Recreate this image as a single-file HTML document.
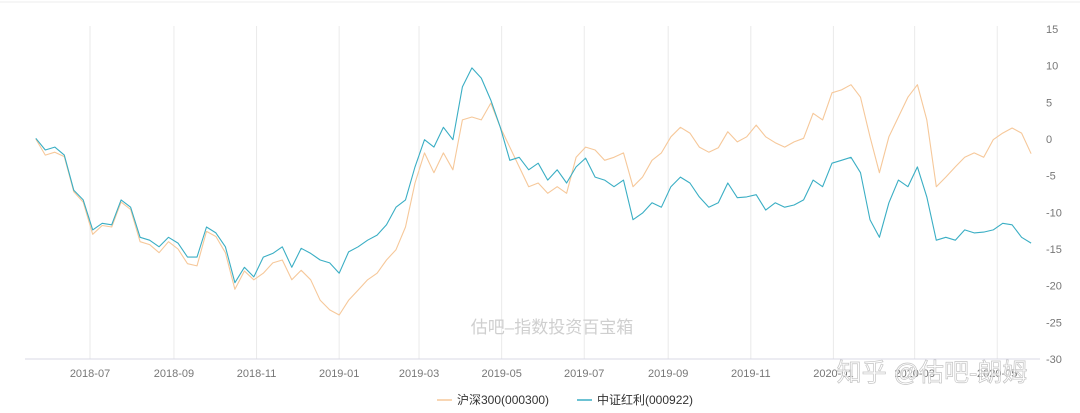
<!DOCTYPE html>
<html><head><meta charset="utf-8"><style>
body{margin:0;background:#fff;width:1080px;height:413px;overflow:hidden;font-family:"Liberation Sans","Noto Sans CJK SC",sans-serif}
svg{display:block}
</style></head><body>
<svg id="chart" width="1080" height="413" xmlns="http://www.w3.org/2000/svg">
<line x1="0" y1="2" x2="1080" y2="2" stroke="#eee"/>
<g id="grid"></g>
<text x="552" y="333" font-size="17" fill="#cfcfcf" text-anchor="middle" font-family="Liberation Sans,Noto Sans CJK SC,sans-serif">估吧–指数投资百宝箱</text>
<g id="series"></g>
<g id="axes"></g>
<text x="932" y="381" font-size="25" fill="#fff" fill-opacity="0.7" stroke="#c4c4c4" stroke-width="0.7" text-anchor="middle" font-family="Liberation Sans,Noto Sans CJK SC,sans-serif">知乎 @估吧-朗姆</text>
<g>
<g>
<line x1="437" y1="400" x2="452" y2="400" stroke="#f6c89a" stroke-width="1.5"/>
<text x="457" y="404" font-size="12" fill="#333">沪深300(000300)</text></g>
<g>
<line x1="577" y1="400" x2="592" y2="400" stroke="#3aaec4" stroke-width="1.5"/>
<text x="597" y="404" font-size="12" fill="#333">中证红利(000922)</text></g>
</g>
</svg>
<script>
const startDate = "2018-05-22";
const stepDays = 7;
const hs300 = [0,-2.2,-1.8,-2.4,-7.2,-8.6,-13,-11.8,-12,-8.6,-9.6,-14,-14.4,-15.5,-14,-15,-17,-17.3,-12.6,-13.3,-15.5,-20.5,-18,-19.2,-18.3,-16.9,-16.5,-19.2,-17.9,-19.2,-22,-23.3,-24,-22,-20.6,-19.2,-18.3,-16.5,-15.1,-12,-6,-1.9,-4.6,-1.9,-4.2,2.6,3,2.6,4.9,1.6,-1.1,-3.8,-6.5,-6,-7.4,-6.5,-7.4,-2.5,-1.1,-1.5,-2.9,-2.5,-1.9,-6.5,-5.2,-2.9,-1.9,0.3,1.6,0.8,-1.1,-1.8,-1.2,1,-0.4,0.3,1.9,0.3,-0.5,-1.1,-0.4,0.1,3.5,2.6,6.3,6.7,7.4,5.7,0.3,-4.6,0.3,3,5.7,7.4,2.6,-6.5,-5.2,-3.8,-2.5,-1.9,-2.5,-0.1,0.8,1.5,0.8,-2];
const dividend = [0.1,-1.5,-1.1,-2.2,-7,-8.3,-12.4,-11.5,-11.7,-8.3,-9.3,-13.4,-13.8,-14.7,-13.4,-14.2,-16.1,-16.1,-12,-12.8,-14.7,-19.6,-17.5,-18.8,-16.1,-15.6,-14.7,-17.5,-14.9,-15.6,-16.5,-16.9,-18.3,-15.4,-14.7,-13.8,-13.1,-11.7,-9.3,-8.3,-3.8,-0.1,-1.1,1.6,-0.1,7.1,9.7,8.3,5.3,1.6,-2.9,-2.5,-4.2,-3.3,-5.6,-4.2,-6,-3.8,-2.6,-5.2,-5.6,-6.5,-5.6,-11,-10.1,-8.7,-9.3,-6.5,-5.2,-6,-7.9,-9.3,-8.7,-6,-8,-7.9,-7.6,-9.7,-8.7,-9.3,-9,-8.3,-5.6,-6.5,-3.3,-2.9,-2.5,-4.6,-11,-13.4,-8.7,-5.6,-6.5,-3.8,-7.9,-13.8,-13.4,-13.8,-12.4,-12.8,-12.7,-12.4,-11.5,-11.7,-13.4,-14.2];
const xTicks = ["2018-07","2018-09","2018-11","2019-01","2019-03","2019-05","2019-07","2019-09","2019-11","2020-01","2020-03","2020-05"];
const yTicks = [15,10,5,0,-5,-10,-15,-20,-25,-30];

const NS="http://www.w3.org/2000/svg";
const DAY=86400000;
const ref=Date.UTC(2018,6,1);
function x(date){return 90+(date-ref)/DAY*(82.6/61);}
function y(v){return 139-v*(330/45);}
function dateOf(i){const p=startDate.split("-");return Date.UTC(+p[0],+p[1]-1,+p[2])+i*stepDays*DAY;}
function mk(tag,attrs,parent){const e=document.createElementNS(NS,tag);for(const k in attrs)e.setAttribute(k,attrs[k]);parent.appendChild(e);return e;}
const grid=document.getElementById("grid"),axes=document.getElementById("axes"),series=document.getElementById("series");
xTicks.forEach(t=>{
  const p=t.split("-");const xx=x(Date.UTC(+p[0],+p[1]-1,1));
  const g=mk("line",{x1:xx,x2:xx,y1:y(15)-3,y2:y(-30),stroke:"#eaeaea","stroke-width":1},grid);
  
  
  const tx=mk("text",{x:xx,y:377,"font-size":11,fill:"#777","text-anchor":"middle"},axes);
  tx.textContent=t;
  
  
});
const base=mk("line",{x1:25,x2:1040,y1:y(-30),y2:y(-30),stroke:"#d8d8e6","stroke-width":1},axes);


yTicks.forEach(v=>{
  const t=mk("text",{x:1046,y:y(v)+4,"font-size":11,fill:"#777"},axes);
  t.textContent=String(v);
  
  
});
function line(vals,color,name){
  const d=vals.map((v,i)=>(i?"L":"M")+x(dateOf(i)).toFixed(1)+","+y(v).toFixed(1)).join("");
  const p=mk("path",{d:d,fill:"none",stroke:color,"stroke-width":1.1,"stroke-linejoin":"round"},series);
  
  
}
line(hs300,"#f6c89a","hs300-line");
line(dividend,"#3aaec4","dividend-line");
</script>
</body></html>
